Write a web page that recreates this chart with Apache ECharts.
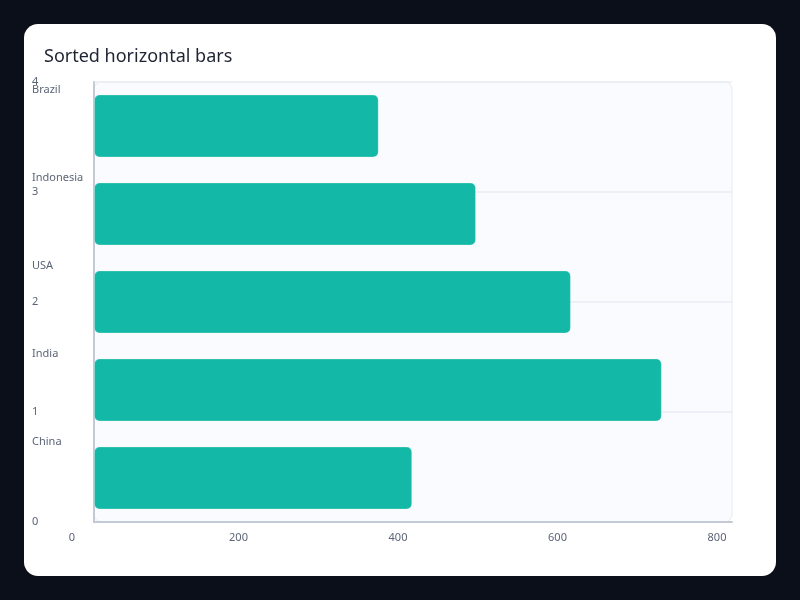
<!DOCTYPE html>
<html>
<head>
<meta charset="utf-8">
<script src="https://cdn.jsdelivr.net/npm/echarts@6/dist/echarts.min.js"></script>
<style>
  html, body { margin: 0; padding: 0; background: #0b0f1a; }
  #chart { width: 800px; height: 600px; }
</style>
</head>
<body>
<div id="chart"></div>
<script>
var countries = ["China", "India", "USA", "Indonesia", "Brazil"];
var amounts = [399, 712, 598, 479, 357];
var xTicks = [0, 200, 400, 600, 800];
var yTicks = [0, 1, 2, 3, 4];

var labelColor = "#5b6475";

var option = {
    backgroundColor: "#0b0f1a",
    animation: false,
    textStyle: { fontFamily: "Noto Sans" },
    title: {
        text: "Sorted horizontal bars",
        left: 39,
        top: 43,
        textStyle: { fontSize: 18, fontWeight: "normal", color: "#1f2433", fontFamily: "Noto Sans" }
    },
    graphic: [{
        type: "rect",
        z: -10,
        shape: { x: 24, y: 24, width: 752, height: 552, r: 14 },
        style: { fill: "#ffffff" }
    }, {
        type: "rect",
        z: -9,
        shape: { x: 94, y: 81.5, width: 638, height: 440.5, r: 8 },
        style: { fill: "#f9fbfe", stroke: "#e6eaf1", lineWidth: 1 }
    }],
    grid: { left: 94, right: 68, top: 82, bottom: 78 },
    xAxis: {
        type: "value",
        min: xTicks[0],
        max: xTicks[xTicks.length - 1],
        interval: 200,
        axisLine: { show: true, lineStyle: { color: "#c3cad6", width: 2 } },
        axisTick: { show: false },
        splitLine: { show: false },
        axisLabel: {
            margin: 10,
            color: labelColor,
            fontSize: 11,
            formatter: function (v) {
                return v === 0 ? "{z|" + v + "}" : "{n|" + v + "}";
            },
            rich: {
                z: { padding: [0, 44, 0, 0], color: labelColor, fontSize: 11 },
                n: { padding: [0, 30, 0, 0], color: labelColor, fontSize: 11 }
            }
        }
    },
    yAxis: [{
        type: "category",
        data: countries,
        axisLine: { lineStyle: { color: "#c3cad6", width: 2 } },
        axisTick: { show: false },
        splitLine: { show: false },
        axisLabel: {
            align: "left",
            verticalAlign: "bottom",
            lineHeight: 72,
            margin: 62,
            color: labelColor,
            fontSize: 11
        }
    }, {
        type: "value",
        position: "left",
        min: yTicks[0],
        max: yTicks[yTicks.length - 1],
        interval: 1,
        axisLine: { show: false },
        axisTick: { show: false },
        splitLine: { show: true, lineStyle: { color: "#e9edf3", width: 1.5 } },
        axisLabel: {
            align: "left",
            margin: 62,
            color: labelColor,
            fontSize: 11,
            padding: [2, 0, 0, 0]
        }
    }],
    series: [{
        type: "bar",
        yAxisIndex: 0,
        data: amounts,
        barWidth: 63,
        itemStyle: {
            color: "#14b8a6",
            borderRadius: 5,
            borderColor: "rgba(255,255,255,0.25)",
            borderWidth: 1
        }
    }]
};

echarts.init(document.getElementById("chart")).setOption(option);
</script>
</body>
</html>
